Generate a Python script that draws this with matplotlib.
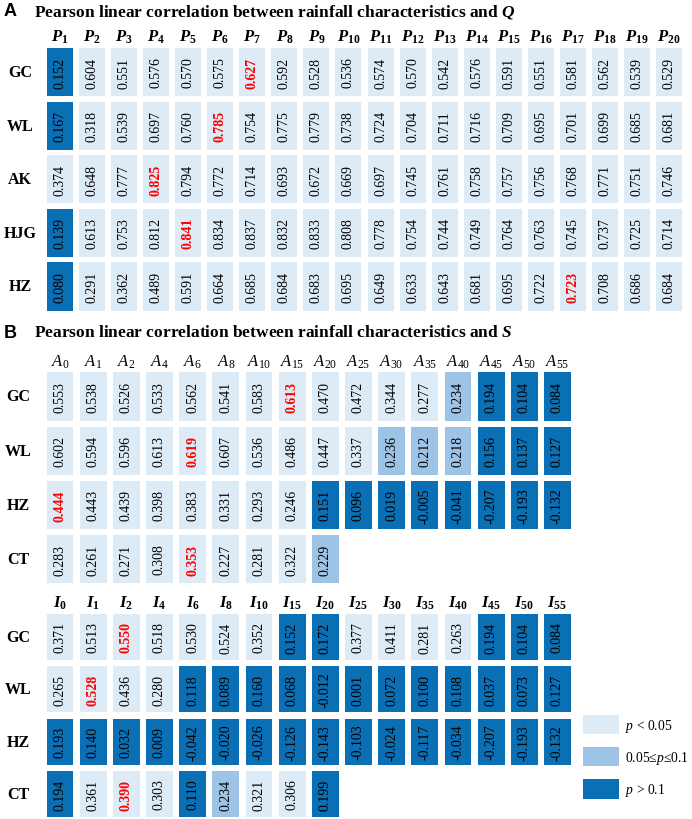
import numpy as np
import matplotlib.pyplot as plt
from matplotlib.patches import Rectangle, Patch

plt.rcParams['font.family'] = ['Liberation Serif', 'DejaVu Serif']
plt.rcParams['mathtext.fontset'] = 'custom'
plt.rcParams['mathtext.rm'] = 'Liberation Serif'
plt.rcParams['mathtext.it'] = 'Liberation Serif:italic'
plt.rcParams['mathtext.bf'] = 'Liberation Serif:bold'
plt.rcParams['mathtext.bfit'] = 'Liberation Serif:italic:bold'

# Significance classes: 0 -> p < 0.05, 1 -> 0.05 <= p <= 0.1, 2 -> p > 0.1
SIG_COLORS = ['#ddebf7', '#9dc3e6', '#0a6fb5']
SIG_LABELS = [r'$\mathit{p}$ < 0.05', r'0.05≤$\mathit{p}$≤0.1', r'$\mathit{p}$ > 0.1']

# Panel A: rainfall characteristics vs Q
q_subs = list(range(1, 21))
q_rows = ['GC', 'WL', 'AK', 'HJG', 'HZ']
q_values = [
    [0.152, 0.604, 0.551, 0.576, 0.570, 0.575, 0.627, 0.592, 0.528, 0.536,
     0.574, 0.570, 0.542, 0.576, 0.591, 0.551, 0.581, 0.562, 0.539, 0.529],
    [0.167, 0.318, 0.539, 0.697, 0.760, 0.785, 0.754, 0.775, 0.779, 0.738,
     0.724, 0.704, 0.711, 0.716, 0.709, 0.695, 0.701, 0.699, 0.685, 0.681],
    [0.374, 0.648, 0.777, 0.825, 0.794, 0.772, 0.714, 0.693, 0.672, 0.669,
     0.697, 0.745, 0.761, 0.758, 0.757, 0.756, 0.768, 0.771, 0.751, 0.746],
    [0.139, 0.613, 0.753, 0.812, 0.841, 0.834, 0.837, 0.832, 0.833, 0.808,
     0.778, 0.754, 0.744, 0.749, 0.764, 0.763, 0.745, 0.737, 0.725, 0.714],
    [0.080, 0.291, 0.362, 0.489, 0.591, 0.664, 0.685, 0.684, 0.683, 0.695,
     0.649, 0.633, 0.643, 0.681, 0.695, 0.722, 0.723, 0.708, 0.686, 0.684],
]
q_sig = [
    [2] + [0] * 19,
    [2] + [0] * 19,
    [0] * 20,
    [2] + [0] * 19,
    [2] + [0] * 19,
]

# Panel B: rainfall characteristics vs S
s_subs = [0, 1, 2, 4, 6, 8, 10, 15, 20, 25, 30, 35, 40, 45, 50, 55]
s_rows = ['GC', 'WL', 'HZ', 'CT']
a_values = [
    [0.553, 0.538, 0.526, 0.533, 0.562, 0.541, 0.583, 0.613, 0.470, 0.472,
     0.344, 0.277, 0.234, 0.194, 0.104, 0.084],
    [0.602, 0.594, 0.596, 0.613, 0.619, 0.607, 0.536, 0.486, 0.447, 0.337,
     0.236, 0.212, 0.218, 0.156, 0.137, 0.127],
    [0.444, 0.443, 0.439, 0.398, 0.383, 0.331, 0.293, 0.246, 0.151, 0.096,
     0.019, -0.005, -0.041, -0.207, -0.193, -0.132],
    [0.283, 0.261, 0.271, 0.308, 0.353, 0.227, 0.281, 0.322, 0.229],
]
a_sig = [
    [0] * 12 + [1] + [2] * 3,
    [0] * 10 + [1] * 3 + [2] * 3,
    [0] * 8 + [2] * 8,
    [0] * 8 + [1],
]
i_values = [
    [0.371, 0.513, 0.550, 0.518, 0.530, 0.524, 0.352, 0.152, 0.172, 0.377,
     0.411, 0.281, 0.263, 0.194, 0.104, 0.084],
    [0.265, 0.528, 0.436, 0.280, 0.118, 0.089, 0.160, 0.068, -0.012, 0.001,
     0.072, 0.100, 0.108, 0.037, 0.073, 0.127],
    [0.193, 0.140, 0.032, 0.009, -0.042, -0.020, -0.026, -0.126, -0.143, -0.103,
     -0.024, -0.117, -0.034, -0.207, -0.193, -0.132],
    [0.194, 0.361, 0.390, 0.303, 0.110, 0.234, 0.321, 0.306, 0.199],
]
i_sig = [
    [0] * 7 + [2, 2] + [0] * 4 + [2] * 3,
    [0] * 4 + [2] * 12,
    [2] * 16,
    [2, 0, 0, 0, 2, 1, 0, 0, 2],
]

W, H = 692, 820
fig = plt.figure(figsize=(W / 100, H / 100), dpi=100)


def px_axes(x0, y0, x1, y1):
    """Axes placed by pixel box (top-left origin)."""
    ax = fig.add_axes([x0 / W, 1 - y1 / H, (x1 - x0) / W, (y1 - y0) / H])
    ax.set_axis_off()
    return ax


def draw_block(ax, header_fmt, subs, rows, values, sig, cw, ch, head_y):
    ax.set_xlim(-0.5, len(subs) - 0.5)
    ax.set_ylim(len(rows) - 0.5, -0.5)
    for j, s in enumerate(subs):
        ax.text(j, head_y, header_fmt.format(s), ha='center', va='center',
                fontsize=12, clip_on=False)
    for i, name in enumerate(rows):
        ax.text(-1.25, i, name, ha='center', va='center', fontsize=11.5,
                fontweight='bold', clip_on=False)
        row = np.array(values[i])
        lvl = np.array(sig[i])
        best = np.max(row[lvl == 0]) if np.any(lvl == 0) else None
        for j, v in enumerate(row):
            ax.add_patch(Rectangle((j - cw / 2, i - ch / 2), cw, ch,
                                   facecolor=SIG_COLORS[lvl[j]], edgecolor='none',
                                   clip_on=False))
            hot = best is not None and lvl[j] == 0 and v == best
            ax.text(j, i, f'{v:.3f}', rotation=90, ha='center', va='center',
                    fontsize=10, color='red' if hot else 'black',
                    fontweight='bold' if hot else 'normal')


# panel titles
fig.text(4 / W, 1 - 12 / H, 'A', fontsize=13, fontweight='bold',
         family='Liberation Sans', va='center')
fig.text(34 / W, 1 - 12 / H,
         r'Pearson linear correlation between rainfall characteristics and $\mathbfit{Q}$',
         fontsize=12.5, fontweight='bold', va='center')
fig.text(4 / W, 1 - 333 / H, 'B', fontsize=13, fontweight='bold',
         family='Liberation Sans', va='center')
fig.text(34 / W, 1 - 333 / H,
         r'Pearson linear correlation between rainfall characteristics and $\mathbfit{S}$',
         fontsize=12.5, fontweight='bold', va='center')

ax_q = px_axes(44, 46.2, 685, 314.3)
draw_block(ax_q, r'$\mathbfit{{P}}_{{\mathbf{{{}}}}}$', q_subs, q_rows,
           q_values, q_sig, 0.81, 0.9, -0.67)

ax_a = px_axes(43.4, 370.4, 574, 587.1)
draw_block(ax_a, r'$\mathit{{A}}_{{\mathrm{{{}}}}}$', s_subs, s_rows,
           a_values, a_sig, 0.81, 0.89, -0.655)

ax_i = px_axes(43.4, 611.8, 574, 821.2)
draw_block(ax_i, r'$\mathbfit{{I}}_{{\mathbf{{{}}}}}$', s_subs, s_rows,
           i_values, i_sig, 0.81, 0.88, -0.67)

handles = [Patch(facecolor=c, edgecolor='none') for c in SIG_COLORS]
fig.legend(handles, SIG_LABELS, loc='upper left',
           bbox_to_anchor=(583 / W, 1 - 716 / H), frameon=False, borderpad=0,
           borderaxespad=0, fontsize=9.8, handlelength=2.65, handleheight=1.8,
           labelspacing=0.95, handletextpad=0.45)

fig.savefig('out.png', dpi=100)
